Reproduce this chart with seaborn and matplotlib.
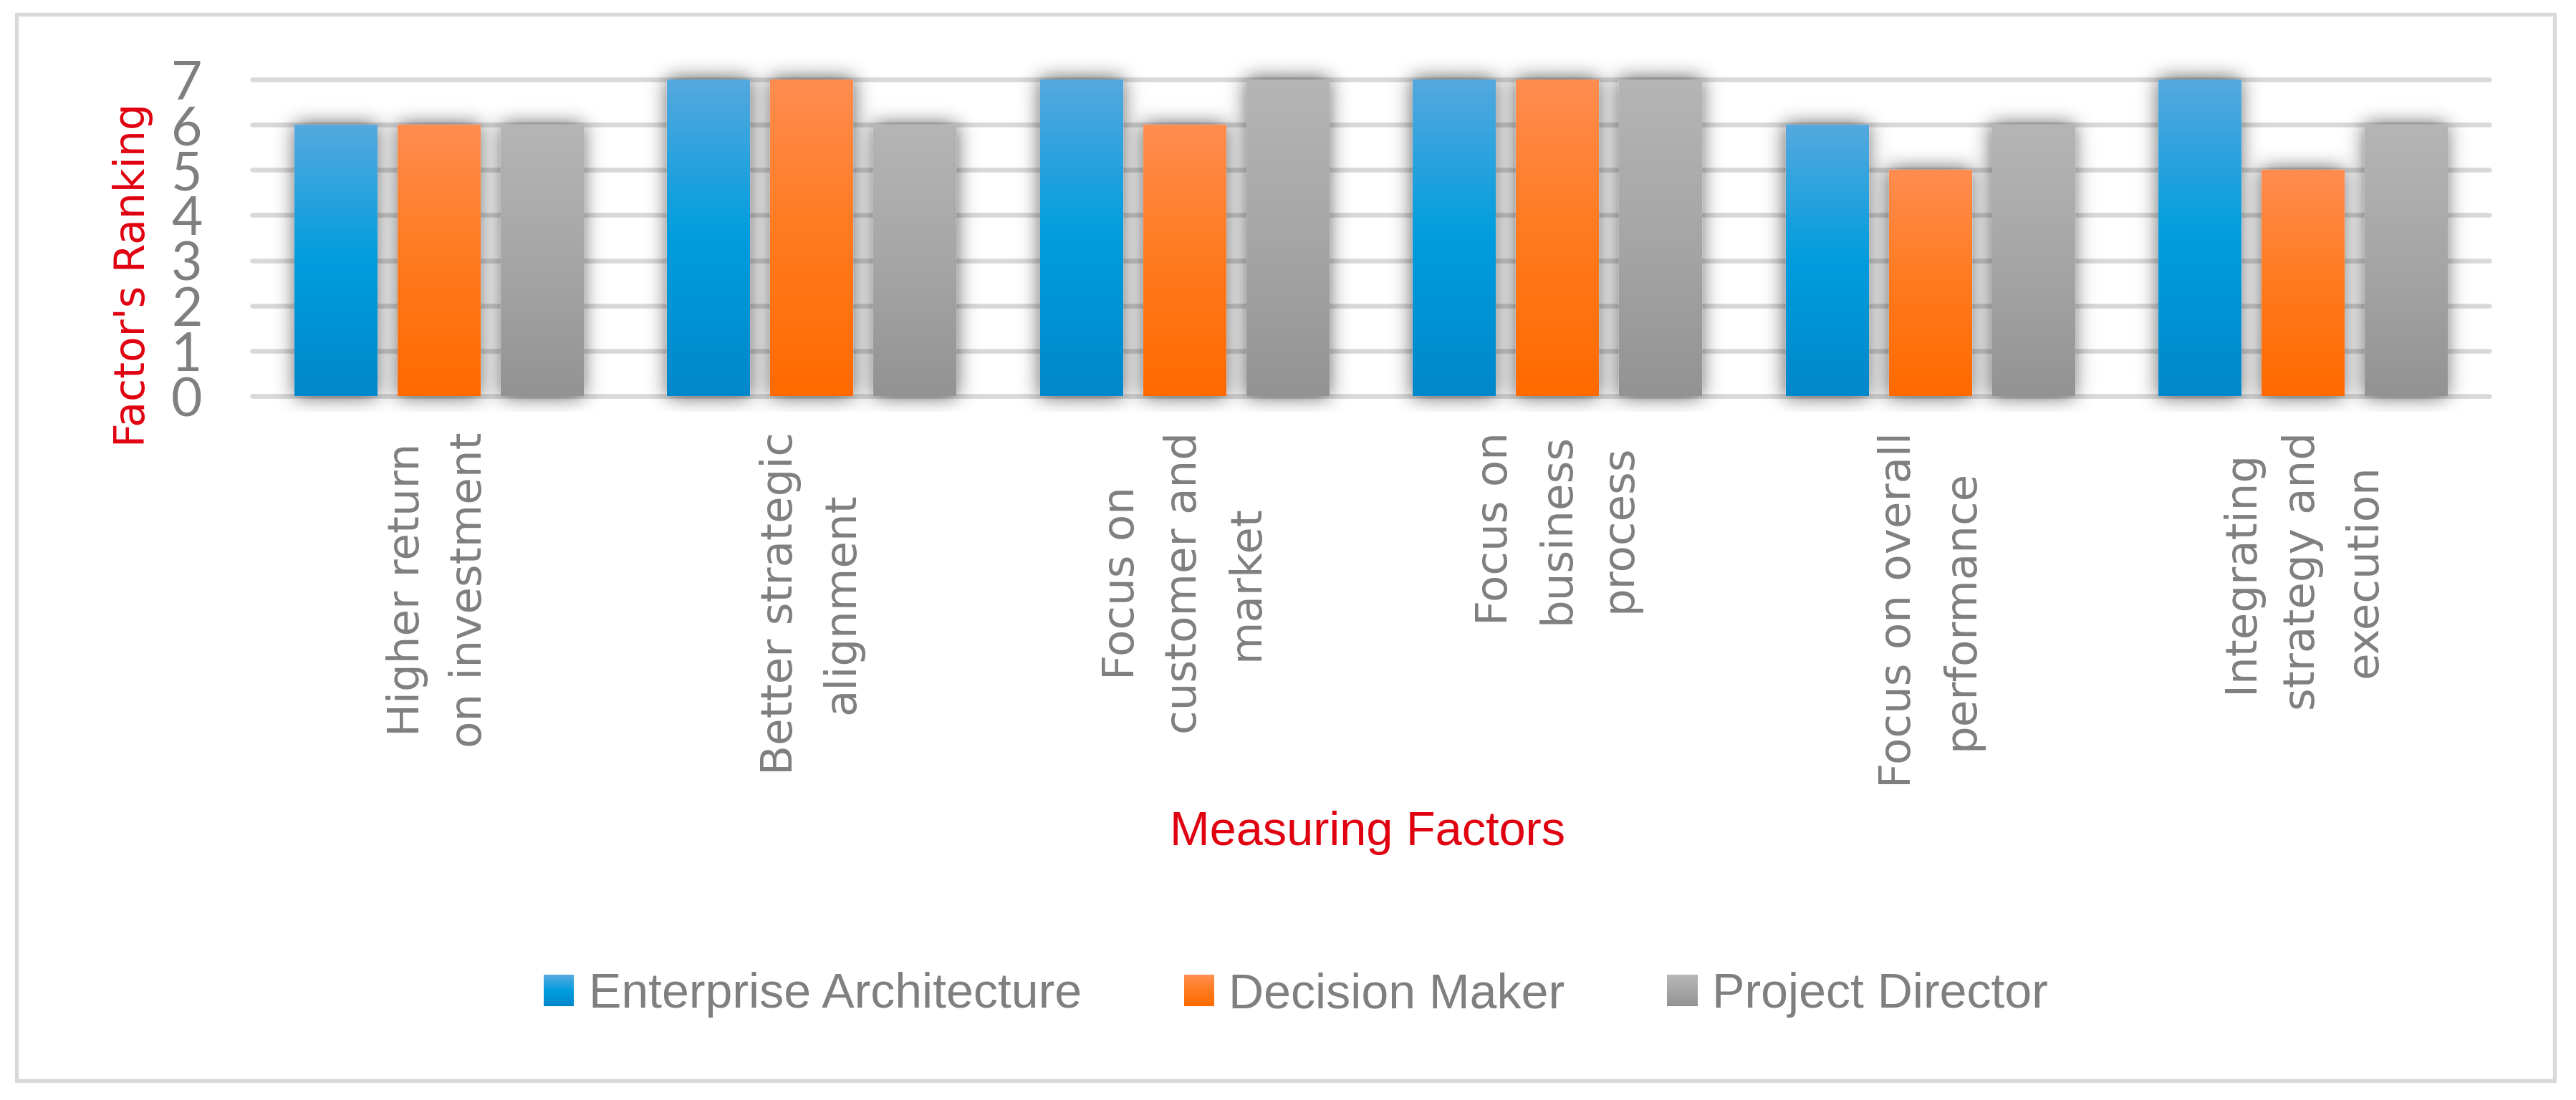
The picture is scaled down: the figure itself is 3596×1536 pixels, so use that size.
import numpy as np
import pandas as pd
import matplotlib
matplotlib.use("Agg")
import matplotlib.pyplot as plt
import seaborn as sns
from matplotlib.colors import LinearSegmentedColormap
from matplotlib.patches import Rectangle, Patch
from matplotlib.legend_handler import HandlerBase

# data
factors = [
    "Higher return\non investment",
    "Better strategic\nalignment",
    "Focus on\ncustomer and\nmarket",
    "Focus on\nbusiness\nprocess",
    "Focus on overall\nperformance",
    "Integrating\nstrategy and\nexecution",
]
roles = ["Enterprise Architecture", "Decision Maker", "Project Director"]
enterprise_arch = [6, 7, 7, 7, 6, 7]
decision_maker = [6, 7, 6, 7, 5, 5]
project_director = [6, 6, 7, 7, 6, 6]
y_ticks = [0, 1, 2, 3, 4, 5, 6, 7]

# gradient stops (bottom, middle, top)
gradients = {
    "Enterprise Architecture": ["#0088cb", "#009ddf", "#55a9de"],
    "Decision Maker": ["#ff6a00", "#ff7a1e", "#ff8d50"],
    "Project Director": ["#939393", "#a6a6a6", "#b5b5b5"],
}
cmaps = {k: LinearSegmentedColormap.from_list(k, v) for k, v in gradients.items()}

df = pd.DataFrame({
    "factor": factors * 3,
    "rank": enterprise_arch + decision_maker + project_director,
    "role": [r for r in roles for _ in factors],
})

sns.set_style("white")
plt.rcParams["font.family"] = ["DejaVu Sans"]
TXT = "#7f7f7f"
RED = "#e0000f"
NARROW = ["Liberation Sans", "DejaVu Sans"]

fig = plt.figure(figsize=(35.96, 15.36), dpi=100)
ax = fig.add_axes([352 / 3596, 1 - 553 / 1536, 3123 / 3596, 442 / 1536])

sns.barplot(data=df, x="factor", y="rank", hue="role", hue_order=roles,
            palette=[gradients[r][1] for r in roles], width=0.83, gap=0.2,
            legend=False, ax=ax, zorder=3)
ax.set_xlim(-0.5, len(factors) - 0.5)
ax.set_ylim(0, 7)

# gridlines
for t in y_ticks:
    ax.axhline(t, color="#d9d9d9", lw=4.8, zorder=1, clip_on=False)

# soft shadow under the bars
x0, x1, y0, y1 = -0.5, len(factors) - 0.5, -0.35, 7.5
nx, ny = 1562, 270
xs = np.linspace(x0, x1, nx)
ys = np.linspace(y0, y1, ny)
X, Y = np.meshgrid(xs, ys)
mask = np.zeros_like(X)
for cont in ax.containers:
    for bar in cont:
        bx, bw, bh = bar.get_x(), bar.get_width(), bar.get_height()
        mask[(X >= bx) & (X <= bx + bw) & (Y >= -0.05) & (Y <= bh + 0.04)] = 1.0
sig = 7.0
kx = np.exp(-0.5 * (np.arange(-24, 25) / sig) ** 2)
kx /= kx.sum()
blur = np.apply_along_axis(lambda r: np.convolve(r, kx, mode="same"), 1, mask)
blur = np.apply_along_axis(lambda c: np.convolve(c, kx, mode="same"), 0, blur)
shadow = np.zeros((ny, nx, 4))
shadow[..., 3] = np.clip(blur * 0.62, 0, 1)
ax.imshow(shadow, extent=[x0, x1, y0, y1], origin="lower", aspect="auto",
          interpolation="bilinear", zorder=2, clip_on=False)

# gradient fill on every bar
grad = np.linspace(0, 1, 256).reshape(-1, 1)
for role, cont in zip(roles, ax.containers):
    for bar in cont:
        bar.set_facecolor("none")
        bx, bw, bh = bar.get_x(), bar.get_width(), bar.get_height()
        im = ax.imshow(grad, cmap=cmaps[role], origin="lower", aspect="auto",
                       extent=[bx, bx + bw, 0, bh], zorder=3)
        im.set_clip_path(bar)
ax.set_xlim(-0.5, len(factors) - 0.5)
ax.set_ylim(0, 7)

for s in ax.spines.values():
    s.set_visible(False)
ax.set_yticks(y_ticks)
ax.set_yticklabels([str(t) for t in y_ticks], family=["Lato", "DejaVu Sans"],
                   fontsize=54, color=TXT)
ax.tick_params(axis="y", length=0, pad=50)
ax.set_xticks(range(len(factors)))
ax.set_xticklabels(factors, rotation=90, fontsize=44, color=TXT, linespacing=1.6)
ax.tick_params(axis="x", length=0, pad=36)

ax.set_ylabel("Factor's Ranking", fontsize=42, color=RED)
ax.yaxis.set_label_coords(-0.0442, 0.382)
ax.set_xlabel("Measuring Factors", fontsize=48, color=RED, family=NARROW)
ax.xaxis.set_label_coords(0.4985, -1.31)


class GradientHandler(HandlerBase):
    def __init__(self, cmap):
        super().__init__()
        self.cmap = cmap

    def create_artists(self, legend, orig_handle, xdescent, ydescent,
                       width, height, fontsize, trans):
        n = 24
        arts = []
        for k in range(n):
            arts.append(Rectangle((-xdescent, -ydescent + height * k / n), width,
                                  height / n * 1.05, facecolor=self.cmap(k / (n - 1)),
                                  edgecolor="none", transform=trans))
        return arts


handles = [Patch(label=r) for r in roles]
fig.legend(handles=handles, labels=roles, loc="center",
           bbox_to_anchor=(1809 / 3596, 1 - 1389 / 1536), ncol=3, frameon=False,
           prop={"family": NARROW, "size": 49}, labelcolor=TXT,
           handlelength=0.62, handleheight=0.62, handletextpad=0.3, columnspacing=2.1,
           handler_map={h: GradientHandler(cmaps[r]) for h, r in zip(handles, roles)})

# outer chart border
fig.add_artist(Rectangle((23 / 3596, 1 - 1509 / 1536), 3543 / 3596, 1489 / 1536,
                         transform=fig.transFigure, fill=False,
                         edgecolor="#d9d9d9", lw=3.8))

fig.savefig("out.png", dpi=100, facecolor="white")
